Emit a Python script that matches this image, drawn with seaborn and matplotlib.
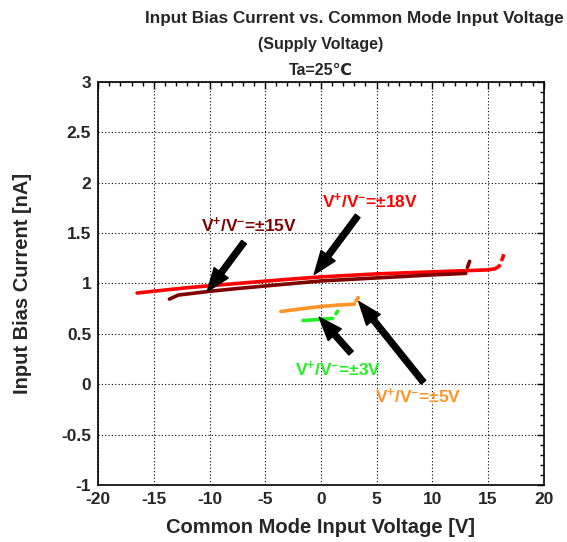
import matplotlib
matplotlib.use('Agg')
import matplotlib.pyplot as plt
import pandas as pd
import seaborn as sns
from matplotlib.ticker import MultipleLocator

# curve data (V, nA)
v18 = [-16.5, -14, -12, -10, -7.5, -5, -2.5, 0, 2.5, 5, 7.5, 10, 12.5, 15, 15.6]
i18 = [0.905, 0.935, 0.958, 0.977, 1.0, 1.023, 1.045, 1.065, 1.08, 1.095, 1.105, 1.115, 1.125, 1.135, 1.145]
v18_end = [15.6, 16.0, 16.3, 16.5]
i18_end = [1.145, 1.17, 1.25, 1.32]

v15 = [-13.6, -13.2, -12.8, -10, -7.5, -5, -2.5, 0, 2.5, 5, 7.5, 10, 13.0]
i15 = [0.845, 0.865, 0.885, 0.922, 0.95, 0.975, 1.0, 1.025, 1.04, 1.055, 1.07, 1.085, 1.10]
v15_end = [13.15, 13.35]
i15_end = [1.16, 1.22]

v5 = [-3.6, -2, 0, 1.5, 3.0]
i5 = [0.722, 0.745, 0.772, 0.785, 0.795]
v5_end = [3.15, 3.35]
i5_end = [0.825, 0.86]

v3 = [-1.6, -0.5, 0.5, 1.05]
i3 = [0.632, 0.64, 0.648, 0.653]
v3_end = [1.35, 1.5]
i3_end = [0.70, 0.725]

xticks = [-20, -15, -10, -5, 0, 5, 10, 15, 20]
yticks = [-1, -0.5, 0, 0.5, 1, 1.5, 2, 2.5, 3]
ytick_labels = ['-1', '-0.5', '0', '0.5', '1', '1.5', '2', '2.5', '3']

# label text, label position, arrow tail, arrow head
notes = [
    ('V$^{+}$/V$^{-}$=±15V', (-6.5, 1.58), (-6.9, 1.41), (-10.2, 0.92), '#800000'),
    ('V$^{+}$/V$^{-}$=±18V', (4.4, 1.81), (3.3, 1.67), (-0.6, 1.09), '#ff0000'),
    ('V$^{+}$/V$^{-}$=±3V', (1.5, 0.15), (2.7, 0.31), (-0.15, 0.665), '#22ee22'),
    ('V$^{+}$/V$^{-}$=±5V', (8.7, -0.12), (9.2, 0.02), (3.4, 0.82), '#ff9326'),
]

sns.set_style('white')
plt.rcParams['font.family'] = ['Liberation Sans', 'DejaVu Sans']
plt.rcParams['font.weight'] = 'bold'
plt.rcParams['axes.unicode_minus'] = False
plt.rcParams['mathtext.fontset'] = 'custom'
plt.rcParams['mathtext.rm'] = 'Liberation Sans:bold'
plt.rcParams['mathtext.default'] = 'rm'

fig = plt.figure(figsize=(5.67, 5.42), dpi=100)
ax = fig.add_axes([0.173, 0.105, 0.786, 0.744])

series = [
    (v18, i18, '#ff0000', '-'), (v18_end, i18_end, '#ff0000', (0, (2, 1))),
    (v15, i15, '#800000', '-'), (v15_end, i15_end, '#800000', '-'),
    (v5, i5, '#ff9326', '-'), (v5_end, i5_end, '#ff9326', '-'),
    (v3, i3, '#22ee22', '-'), (v3_end, i3_end, '#22ee22', '-'),
]
for vx, iy, col, ls in series:
    d = pd.DataFrame({'v': vx, 'i': iy})
    sns.lineplot(data=d, x='v', y='i', color=col, linewidth=2.6, linestyle=ls,
                 sort=False, estimator=None, ax=ax, solid_capstyle='round')

for txt, tpos, tail, head, col in notes:
    ax.annotate('', xy=head, xytext=tail,
                arrowprops=dict(arrowstyle='simple,head_length=1.2,head_width=0.9,tail_width=0.3',
                                color='black', mutation_scale=14, shrinkA=0, shrinkB=0))
    ax.text(tpos[0], tpos[1], txt, color=col, fontsize=12.5, fontweight='bold',
            ha='center', va='center')

ax.set_xlim(-20, 20)
ax.set_ylim(-1, 3)
ax.set_xticks(xticks)
ax.set_xticklabels([str(t) for t in xticks])
ax.set_yticks(yticks)
ax.set_yticklabels(ytick_labels)
ax.xaxis.set_minor_locator(MultipleLocator(1))
ax.yaxis.set_minor_locator(MultipleLocator(0.1))
ax.tick_params(which='both', direction='in', top=True, right=True, color='black', width=1)
ax.tick_params(which='major', length=5, labelsize=12.5, pad=5)
ax.tick_params(which='minor', length=3)
for lab in ax.get_xticklabels() + ax.get_yticklabels():
    lab.set_fontweight('bold')
ax.grid(True, which='major', color='black', linestyle=(0, (1, 2)), linewidth=0.8)
for s in ax.spines.values():
    s.set_color('black')
    s.set_linewidth(1.2)

ax.set_xlabel('Common Mode Input Voltage [V]', fontsize=14.5, fontweight='bold', labelpad=8)
ax.set_ylabel('Input Bias Current [nA]', fontsize=14.5, fontweight='bold', labelpad=21)

fig.text(0.625, 0.966, 'Input Bias Current vs. Common Mode Input Voltage',
         ha='center', va='center', fontsize=12.3, fontweight='bold')
fig.text(0.566, 0.917, '(Supply Voltage)', ha='center', va='center', fontsize=11.5, fontweight='bold')
fig.text(0.566, 0.871, 'Ta=25℃', ha='center', va='center', fontsize=11.5, fontweight='bold')

fig.savefig('out.png', dpi=100)
